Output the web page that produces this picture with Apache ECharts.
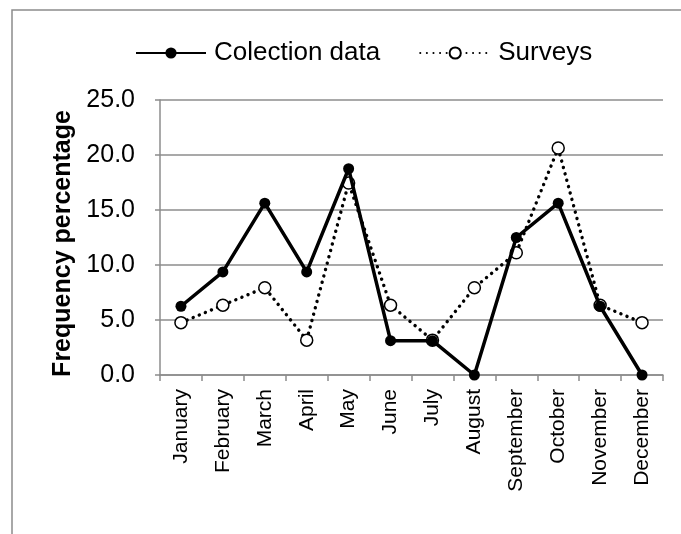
<!DOCTYPE html>
<html>
<head>
<meta charset="utf-8">
<script src="https://cdn.jsdelivr.net/npm/echarts@6/dist/echarts.min.js"></script>
<style>
  html, body { margin: 0; padding: 0; background: #fff; }
  #chart { width: 681px; height: 534px; }
</style>
</head>
<body>
<div id="chart"></div>
<script>
// Monthly frequency (%) from collection records and from surveys
var months = ['January', 'February', 'March', 'April', 'May', 'June', 'July',
  'August', 'September', 'October', 'November', 'December'];
var collectionData = [6.25, 9.375, 15.625, 9.375, 18.75, 3.125, 3.125, 0, 12.5, 15.625, 6.25, 0];
var surveysData = [4.76, 6.35, 7.94, 3.17, 17.46, 6.35, 3.17, 7.94, 11.11, 20.63, 6.35, 4.76];
var yTicks = { min: 0, max: 25, interval: 5 };

var FONT = '"Liberation Sans", Arial, sans-serif';
var GRAY = '#8c8c8c';

var chart = echarts.init(document.getElementById('chart'), null, { renderer: 'canvas' });
chart.setOption({
  animation: false,
  backgroundColor: '#fff',
  graphic: [{
    type: 'rect',
    shape: { x: 12, y: 10, width: 720, height: 600 },
    style: { fill: 'none', stroke: GRAY, lineWidth: 1.5 },
    silent: true
  }],
  legend: {
    left: 130,
    top: 35,
    itemWidth: 70,
    itemHeight: 14,
    itemGap: 39,
    textStyle: { fontFamily: FONT, fontSize: 26, color: '#000', padding: [0, 0, 0, 3] },
    data: ['Colection data', 'Surveys']
  },
  grid: { left: 160, right: 18, top: 100, bottom: 159 },
  xAxis: {
    type: 'category',
    data: months,
    boundaryGap: true,
    axisLine: { lineStyle: { color: GRAY, width: 1.5 } },
    axisTick: { show: true, length: 6, lineStyle: { color: GRAY, width: 1.5 } },
    axisLabel: { rotate: 90, margin: 14, color: '#000', fontFamily: FONT, fontSize: 21, interval: 0 }
  },
  yAxis: {
    type: 'value',
    min: yTicks.min,
    max: yTicks.max,
    interval: yTicks.interval,
    name: 'Frequency percentage',
    nameLocation: 'middle',
    nameGap: 42,
    nameTextStyle: {
      fontFamily: FONT, fontSize: 25, fontWeight: 'bold', color: '#000',
      padding: [0, 12, 0, 0]
    },
    axisLine: { show: true, lineStyle: { color: GRAY, width: 1.5 } },
    axisTick: { show: true, length: 5, lineStyle: { color: GRAY, width: 1.5 } },
    axisLabel: {
      margin: 25, color: '#000', fontFamily: FONT, fontSize: 25,
      formatter: function (v) { return v.toFixed(1); }
    },
    splitLine: { lineStyle: { color: GRAY, width: 1.5 } }
  },
  series: [{
    name: 'Colection data',
    type: 'line',
    data: collectionData,
    symbol: 'circle',
    symbolSize: 11,
    itemStyle: { color: '#000', borderColor: '#000', borderWidth: 0 },
    lineStyle: { color: '#000', width: 3.5 },
    z: 3
  }, {
    name: 'Surveys',
    type: 'line',
    data: surveysData,
    symbol: 'circle',
    symbolSize: 12,
    itemStyle: { color: '#fff', borderColor: '#000', borderWidth: 1.5 },
    lineStyle: { color: '#000', width: 3.4, type: [0.1, 6.5], cap: 'round' },
    z: 2
  }]
});
</script>
</body>
</html>
